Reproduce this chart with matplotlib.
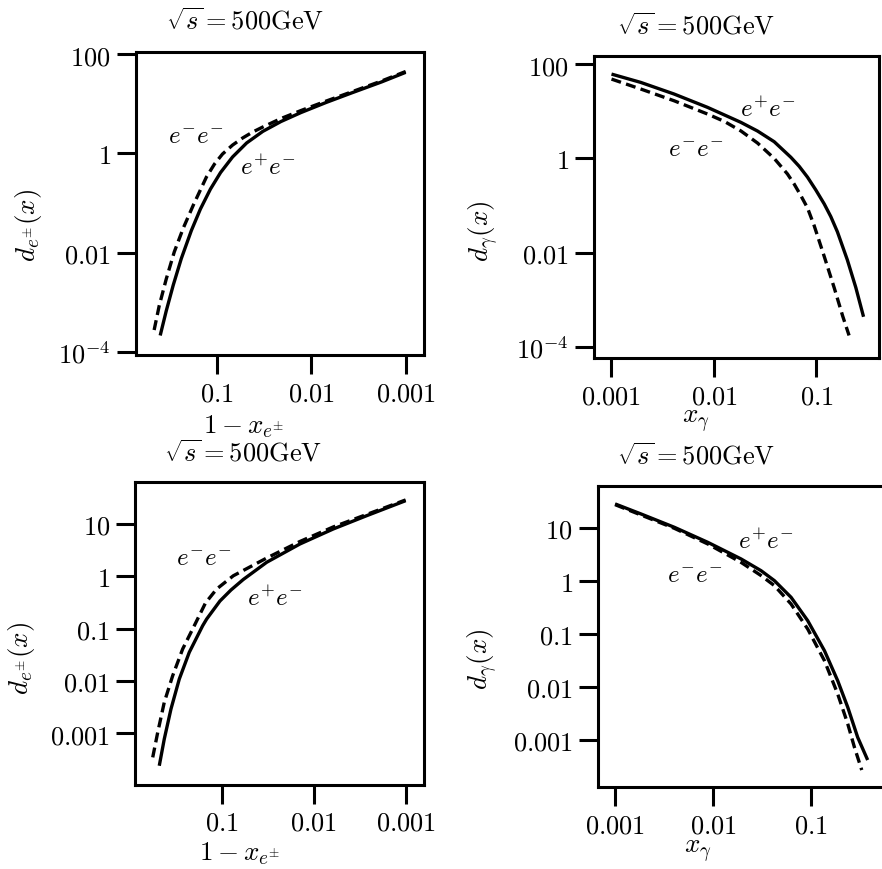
import numpy as np
import matplotlib
matplotlib.use('Agg')
import matplotlib.pyplot as plt

plt.rcParams['mathtext.fontset'] = 'cm'
plt.rcParams['font.family'] = 'serif'

# ---- data (x, y pairs) ----
# top-left: lepton spectrum vs 1-x
tl_ep_x = [0.394, 0.340, 0.2866, 0.2357, 0.1845, 0.148, 0.1159, 0.0906, 0.0676, 0.048, 0.0324,
           0.0208, 0.01277, 0.00692, 0.003754, 0.0018, 0.001]
tl_ep_y = [2.15e-4, 6.73e-4, 2.23e-3, 7.6e-3, 0.0279, 0.0757, 0.191, 0.411, 0.847, 1.62, 2.77,
           4.38, 6.64, 10.6, 16.4, 27.4, 42.8]
tl_em_x = [0.4566, 0.404, 0.340, 0.2798, 0.2244, 0.1757, 0.1278, 0.105, 0.0864, 0.0676, 0.0529,
           0.0414, 0.0324, 0.0208, 0.01277, 0.00692, 0.003754, 0.0018, 0.001]
tl_em_y = [2.77e-4, 8.45e-4, 2.95e-3, 0.01033, 0.0314, 0.0912, 0.334, 0.61, 0.97, 1.47, 2.04,
           2.69, 3.39, 5.03, 7.29, 11.3, 17.2, 28.6, 44.5]

# top-right: photon spectrum
tr_ep_x = [0.001, 0.00193, 0.00408, 0.00865, 0.0183, 0.0266, 0.0387, 0.0562, 0.0678, 0.0817, 0.0985,
           0.119, 0.138, 0.160, 0.200, 0.242, 0.288]
tr_ep_y = [61.4, 40.9, 23.2, 12.1, 5.82, 3.81, 2.26, 1.06, 0.681, 0.402, 0.215,
           0.1087, 0.0585, 0.0279, 7.1e-3, 1.84e-3, 4.4e-4]
tr_em_x = [0.001, 0.00193, 0.00408, 0.00865, 0.0127, 0.0183, 0.0266, 0.0387, 0.0521, 0.0605, 0.0704,
           0.0817, 0.0949, 0.119, 0.149, 0.180, 0.208]
tr_em_y = [48.1, 29.6, 16.7, 8.73, 6.05, 3.83, 2.12, 1.0, 0.469, 0.288, 0.163,
           0.0897, 0.0378, 8.4e-3, 1.81e-3, 4.6e-4, 1.77e-4]

# bottom-left: lepton spectrum vs 1-x
bl_ep_x = [0.477, 0.421, 0.356, 0.289, 0.225, 0.161, 0.1456, 0.1044, 0.0792, 0.0582, 0.0324, 0.0141,
           0.00612, 0.00265, 0.001]
bl_ep_y = [2.37e-4, 7.67e-4, 2.88e-3, 0.0108, 0.0351, 0.113, 0.152, 0.336, 0.546, 0.867, 1.85, 4.14,
           8.02, 14.4, 27.9]
bl_em_x = [0.562, 0.496, 0.421, 0.341, 0.2655, 0.1986, 0.150, 0.1133, 0.0748, 0.0324, 0.0141,
           0.00612, 0.00265, 0.001]
bl_em_y = [3.43e-4, 1.03e-3, 3.87e-3, 0.0125, 0.0406, 0.113, 0.308, 0.570, 1.02, 2.23, 4.62,
           8.77, 15.2, 28.8]

# bottom-right: photon spectrum
br_ep_x = [0.001, 0.00184, 0.00403, 0.00883, 0.0193, 0.0309, 0.0423, 0.0625, 0.0925, 0.137, 0.187,
           0.237, 0.299, 0.378]
br_ep_y = [28.5, 18.4, 10.3, 5.36, 2.6, 1.56, 1.01, 0.49, 0.177, 0.048, 0.013, 4.08e-3, 1.11e-3, 4.13e-4]
br_em_x = [0.001, 0.00403, 0.00883, 0.0193, 0.0309, 0.0423, 0.0625, 0.0925, 0.137, 0.187, 0.237,
           0.277, 0.329]
br_em_y = [27.6, 9.85, 4.99, 2.24, 1.26, 0.813, 0.366, 0.123, 0.0311, 7.3e-3, 1.98e-3, 7.2e-4, 2.67e-4]

ticks_y_top = [100, 1, 0.01, 1e-4]
ticklabels_y_top = ['$100$', '$1$', '$0.01$', '$10^{-4}$']
ticks_y_bot = [10, 1, 0.1, 0.01, 0.001]
ticklabels_y_bot = ['$10$', '$1$', '$0.1$', '$0.01$', '$0.001$']
ticks_x = [0.001, 0.01, 0.1]
ticklabels_x = ['$0.001$', '$0.01$', '$0.1$']

title = r'$\sqrt{s}=500\mathrm{GeV}$'
FS = 19
LW = 2.4

fig = plt.figure(figsize=(8.82, 8.70), dpi=100)

panels = [
    dict(rect=[0.1542, 0.5908, 0.3265, 0.3483], xlim=(0.71, 6.4e-4), ylim=(8.7e-5, 110),
         ep=(tl_ep_x, tl_ep_y), em=(tl_em_x, tl_em_y), yt=(ticks_y_top, ticklabels_y_top),
         xlab=r'$1-x_{e^{\pm}}$', ylab=r'$d_{e^{\pm}}(x)$',
         lab_em=(0.167, 2.2), lab_ep=(0.0287, 0.53),
         t_pos=(0.378, 1.076), xl_pos=(0.372, -0.254), yl_pos=(-0.374, 0.432)),
    dict(rect=[0.6731, 0.587, 0.3238, 0.3471], xlim=(6.7e-4, 0.41), ylim=(5.8e-5, 146),
         ep=(tr_ep_x, tr_ep_y), em=(tr_em_x, tr_em_y), yt=(ticks_y_top, ticklabels_y_top),
         xlab=r'$x_\gamma$', ylab=r'$d_\gamma(x)$',
         lab_em=(0.00665, 1.58), lab_ep=(0.0333, 11.1),
         t_pos=(0.358, 1.074), xl_pos=(0.358, -0.212), yl_pos=(-0.386, 0.4225)),
    dict(rect=[0.1531, 0.0969, 0.3277, 0.3476], xlim=(0.875, 6.3e-4), ylim=(1.03e-4, 62.7),
         ep=(bl_ep_x, bl_ep_y), em=(bl_em_x, bl_em_y), yt=(ticks_y_bot, ticklabels_y_bot),
         xlab=r'$1-x_{e^{\pm}}$', ylab=r'$d_{e^{\pm}}(x)$',
         lab_em=(0.158, 2.14), lab_ep=(0.0263, 0.394),
         t_pos=(0.374, 1.071), xl_pos=(0.363, -0.246), yl_pos=(-0.392, 0.421)),
    dict(rect=[0.6777, 0.0939, 0.325, 0.3467], xlim=(6.65e-4, 0.56), ylim=(1.26e-4, 63),
         ep=(br_ep_x, br_ep_y), em=(br_em_x, br_em_y), yt=(ticks_y_bot, ticklabels_y_bot),
         xlab=r'$x_\gamma$', ylab=r'$d_\gamma(x)$',
         lab_em=(0.00655, 1.26), lab_ep=(0.0347, 5.77),
         t_pos=(0.343, 1.072), xl_pos=(0.349, -0.2155), yl_pos=(-0.401, 0.428)),
]

for p in panels:
    ax = fig.add_axes(p['rect'])
    ax.set_xscale('log')
    ax.set_yscale('log')
    ax.plot(*p['ep'], color='black', lw=LW, solid_capstyle='butt', solid_joinstyle='round')
    ax.plot(*p['em'], color='black', lw=LW, dashes=(3.0, 1.6))
    ax.set_xlim(p['xlim'])
    ax.set_ylim(p['ylim'])
    ax.set_xticks(ticks_x)
    ax.set_xticklabels(ticklabels_x)
    ax.set_yticks(p['yt'][0])
    ax.set_yticklabels(p['yt'][1])
    ax.minorticks_off()
    ax.tick_params(direction='out', length=14, width=2.2, pad=4, labelsize=FS)
    for sp in ax.spines.values():
        sp.set_linewidth(2.2)
    ax.text(*p['lab_em'], r'$e^{-}e^{-}$', fontsize=FS - 1, ha='center', va='center')
    ax.text(*p['lab_ep'], r'$e^{+}e^{-}$', fontsize=FS - 1, ha='center', va='center')
    ax.text(*p['t_pos'], title, transform=ax.transAxes, fontsize=FS, ha='center', va='baseline')
    ax.text(*p['xl_pos'], p['xlab'], transform=ax.transAxes, fontsize=FS + 0.5, ha='center',
            va='baseline')
    ax.text(*p['yl_pos'], p['ylab'], transform=ax.transAxes, fontsize=FS + 0.5, ha='center',
            va='center', rotation=90)

plt.savefig('out.png', dpi=100)
